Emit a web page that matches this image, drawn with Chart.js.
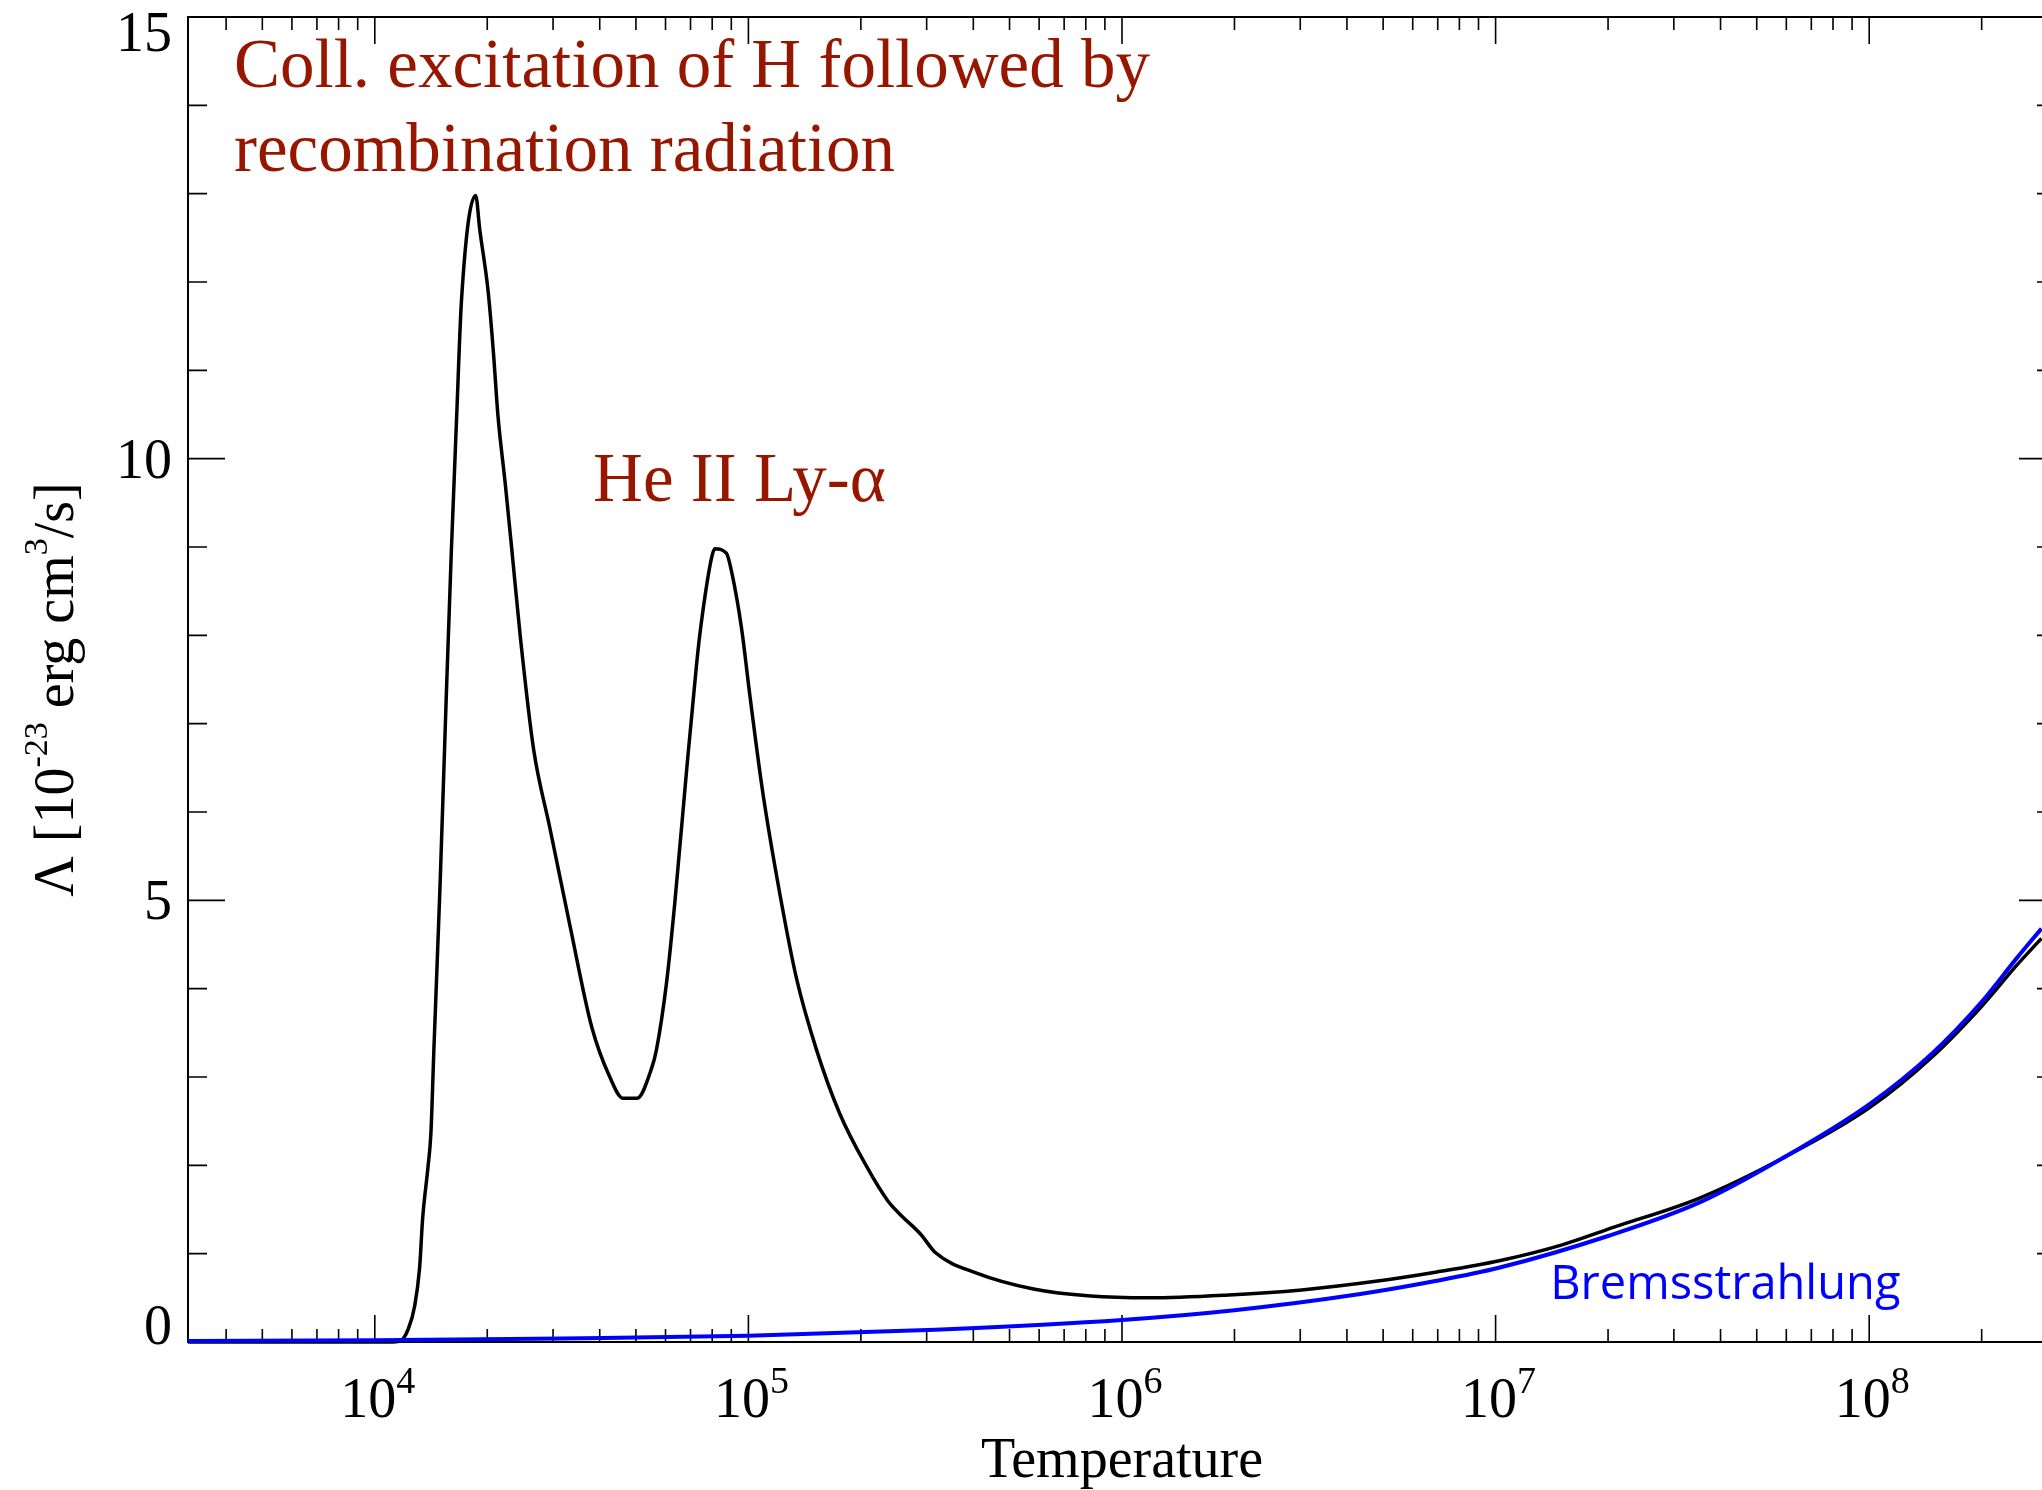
<!DOCTYPE html>
<html>
<head>
<meta charset="utf-8">
<title>Cooling function</title>
<script src="https://cdn.jsdelivr.net/npm/chart.js@4.4.1/dist/chart.umd.min.js"></script>
<style>
  html, body { margin: 0; padding: 0; background: #fff; overflow: hidden; }
  canvas { display: block; }
</style>
</head>
<body>
<canvas id="coolingChart" width="2060" height="1490"></canvas>
<script>
// Total cooling rate (T in K, Lambda in 1e-23 erg cm^3/s)
var temperature = [3162, 7943, 10960, 11670, 12300, 12790, 13180, 13430, 13870, 14130,
  14390, 14960, 15560, 16030, 16560, 17060, 18620, 19100, 20100, 20750,
  21380, 22340, 23280, 24550, 26610, 29380, 33270, 38110, 42560, 46130,
  50350, 55080, 56750, 60390, 63530, 68390, 72610, 74130, 79620, 81280,
  87300, 90160, 95940, 100700, 109100, 121300, 134600, 152100, 175400, 207000,
  236000, 254000, 289100, 317000, 408300, 579400, 824100, 1178000, 1884000, 3027000,
  4831000, 6902000, 10230000, 15070000, 20750000, 35160000, 58610000, 100000000, 147600000, 200900000,
  247700000, 289100000];
var lambdaTotal = [0, 0, 0, 0.01, 0.15, 0.41, 0.84, 1.40, 1.97, 2.36,
  3.3, 5.2, 7.4, 8.96, 10.47, 11.79, 12.98, 12.59, 11.9, 11.23,
  10.47, 9.72, 8.96, 7.96, 6.71, 5.83, 4.72, 3.56, 3.0, 2.76,
  2.76, 3.10, 3.31, 4.07, 4.97, 6.49, 7.66, 8.01, 8.87, 8.98,
  8.93, 8.72, 8.07, 7.35, 6.24, 5.08, 4.11, 3.31, 2.59, 1.99,
  1.60, 1.45, 1.22, 1.01, 0.78, 0.60, 0.52, 0.50, 0.53, 0.59,
  0.69, 0.79, 0.92, 1.10, 1.30, 1.63, 2.08, 2.65, 3.23, 3.81,
  4.26, 4.57];

// Bremsstrahlung part only
var bremsTemperature = [3162, 10000, 31620, 100000, 316200, 1000000, 2000000, 4300000, 6900000,
  10200000, 20000000, 35160000, 58610000, 100000000, 147600000, 200900000, 247700000, 289100000];
var bremsLambda = [0.01, 0.02, 0.04, 0.07, 0.14, 0.25, 0.36, 0.54, 0.69,
  0.84, 1.2, 1.58, 2.08, 2.69, 3.27, 3.86, 4.34, 4.68];

var yTickValues = [0, 5, 10, 15];
var xTickExponents = [4, 5, 6, 7, 8];

var serif = "'Liberation Serif', 'Times New Roman', serif";
var red = '#961600';

function toPoints(xs, ys) {
  return xs.map(function (x, i) { return { x: x, y: ys[i] }; });
}

// draws text pieces left to right, [text, isSuperscript]
function drawRich(ctx, parts, x, y, size, align, supScale, supRaise) {
  var supSize = Math.round(size * supScale);
  ctx.textAlign = 'left';
  ctx.textBaseline = 'alphabetic';
  var widths = parts.map(function (p) {
    ctx.font = (p[1] ? supSize : size) + 'px ' + serif;
    return ctx.measureText(p[0]).width;
  });
  var total = widths.reduce(function (a, b) { return a + b; }, 0);
  var cx = align === 'center' ? x - total / 2 : (align === 'right' ? x - total : x);
  parts.forEach(function (p, i) {
    ctx.font = (p[1] ? supSize : size) + 'px ' + serif;
    ctx.fillText(p[0], cx, p[1] ? y - size * supRaise : y);
    cx += widths[i];
  });
}

var framePlugin = {
  id: 'frame',
  beforeDatasetsDraw: function (chart) {
    var ctx = chart.ctx, a = chart.chartArea, xs = chart.scales.x, ys = chart.scales.y;
    ctx.save();
    ctx.strokeStyle = '#000';
    ctx.lineWidth = 2;
    ctx.strokeRect(a.left, a.top, a.right - a.left, a.bottom - a.top);
    ctx.lineWidth = 1.6;
    ctx.beginPath();
    // log ticks, inward, bottom and top
    for (var e = 3; e <= 8; e++) {
      for (var m = 1; m <= 9; m++) {
        var v = m * Math.pow(10, e);
        if (v < xs.min || v > xs.max) continue;
        var px = xs.getPixelForValue(v);
        var len = m === 1 ? 27 : 13;
        ctx.moveTo(px, a.bottom); ctx.lineTo(px, a.bottom - len);
        ctx.moveTo(px, a.top); ctx.lineTo(px, a.top + len);
      }
    }
    // y ticks every 1, major every 5
    for (var t = 0; t <= 15; t++) {
      var py = ys.getPixelForValue(t);
      var l = t % 5 === 0 ? 37 : 19;
      ctx.moveTo(a.left, py); ctx.lineTo(a.left + l, py);
      ctx.moveTo(a.right, py); ctx.lineTo(a.right - l, py);
    }
    ctx.stroke();
    ctx.restore();
  },
  afterDraw: function (chart) {
    var ctx = chart.ctx, a = chart.chartArea, xs = chart.scales.x, ys = chart.scales.y;
    ctx.save();
    ctx.fillStyle = '#000';

    // x tick labels 10^n
    xTickExponents.forEach(function (e) {
      var px = xs.getPixelForValue(Math.pow(10, e));
      drawRich(ctx, [['10', false], [String(e), true]], px + 3, a.bottom + 75, 56, 'center', 0.68, 0.43);
    });

    // y tick labels, kept inside the frame at the ends
    ctx.font = '56px ' + serif;
    ctx.textAlign = 'right';
    ctx.textBaseline = 'alphabetic';
    yTickValues.forEach(function (v) {
      var base = ys.getPixelForValue(v) + 19;
      base = Math.max(a.top + 34, Math.min(a.bottom + 2, base));
      ctx.fillText(String(v), a.left - 16, base);
    });

    // axis titles
    ctx.font = '56px ' + serif;
    ctx.textAlign = 'center';
    ctx.fillText('Temperature', (a.left + a.right) / 2, a.bottom + 135);

    ctx.save();
    ctx.translate(73, (a.top + a.bottom) / 2 + 10);
    ctx.rotate(-Math.PI / 2);
    drawRich(ctx, [['\u039B [10', false], ['-23', true], [' erg cm', false], ['3', true], ['/s]', false]],
      0, 0, 56, 'center', 0.61, 0.46);
    ctx.restore();

    // annotations
    ctx.fillStyle = red;
    ctx.font = '69px ' + serif;
    ctx.textAlign = 'left';
    var x1 = xs.getPixelForValue(4198);
    ctx.fillText('Coll. excitation of H followed by', x1, ys.getPixelForValue(14.21));
    ctx.fillText('recombination radiation', x1, ys.getPixelForValue(13.26));
    ctx.fillText('He II Ly-\u03B1', xs.getPixelForValue(38400), ys.getPixelForValue(9.52));

    ctx.fillStyle = '#0000ff';
    ctx.font = "47px 'Open Sans', 'Noto Sans', sans-serif";
    ctx.fillText('Bremsstrahlung', xs.getPixelForValue(14000000), ys.getPixelForValue(0.487));
    ctx.restore();
  }
};

var chartElement = document.getElementById('coolingChart').getContext('2d');

new Chart(chartElement, {
  type: 'scatter',
  data: {
    datasets: [
      {
        label: 'Bremsstrahlung',
        data: toPoints(bremsTemperature, bremsLambda),
        showLine: true,
        borderColor: '#0000ff',
        borderWidth: 4,
        pointRadius: 0,
        cubicInterpolationMode: 'monotone',
        clip: false
      },
      {
        label: 'Total',
        data: toPoints(temperature, lambdaTotal),
        showLine: true,
        borderColor: '#000000',
        borderWidth: 3.5,
        pointRadius: 0,
        cubicInterpolationMode: 'monotone',
        clip: false
      }
    ]
  },
  options: {
    responsive: false,
    animation: false,
    layout: { padding: { top: 17, right: 4, left: 0, bottom: 0 } },
    plugins: {
      legend: { display: false },
      tooltip: { enabled: false }
    },
    scales: {
      x: {
        type: 'logarithmic',
        min: Math.pow(10, 3.5),
        max: Math.pow(10, 8.5),
        ticks: { display: false },
        grid: { display: false },
        border: { display: false },
        afterFit: function (s) { s.height = 148; }
      },
      y: {
        type: 'linear',
        min: 0,
        max: 15,
        ticks: { display: false },
        grid: { display: false },
        border: { display: false },
        afterFit: function (s) { s.width = 188; }
      }
    }
  },
  plugins: [framePlugin]
});
</script>
</body>
</html>
